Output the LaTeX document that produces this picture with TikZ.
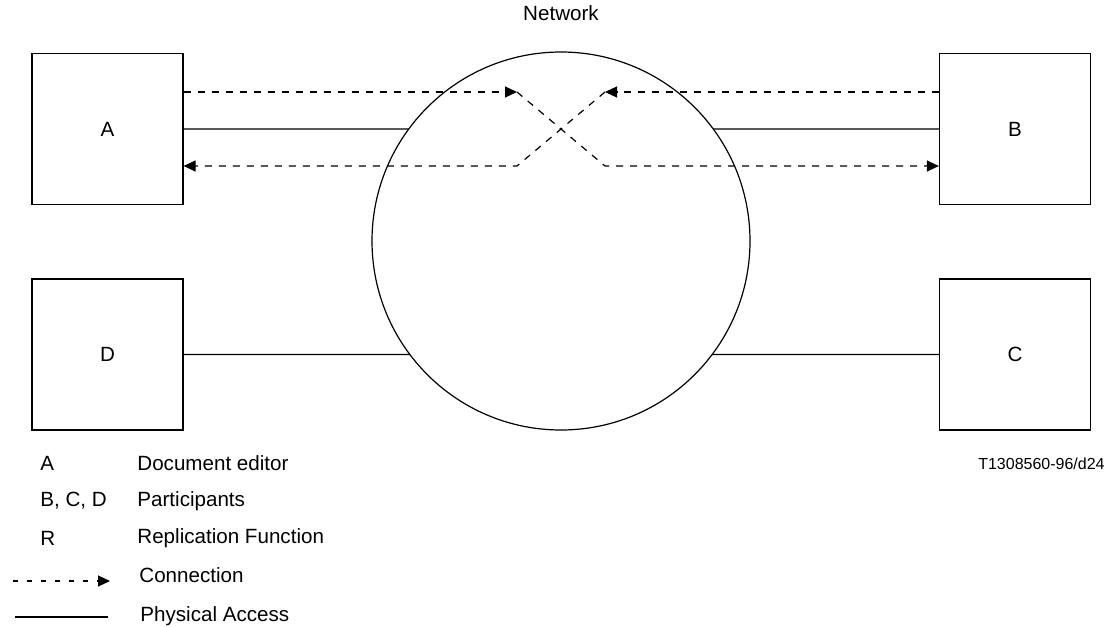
\documentclass[tikz,border=0pt]{standalone}
\usepackage{fontspec}
\setmainfont{Liberation Sans}
\usetikzlibrary{arrows.meta, calc, intersections}

\begin{document}
\begin{tikzpicture}[
    x=0.5pt, y=-0.5pt,
    every node/.style={font=\fontsize{10.3}{12}\selectfont},
    box/.style={draw, line width=0.6pt, minimum width=75.5pt, minimum height=75.5pt, inner sep=0pt},
    key/.style={anchor=west, inner sep=0pt},
    phys/.style={line width=0.6pt},
    conn/.style={line width=0.6pt, dash pattern=on 3.5pt off 3.5pt},
    tip/.style={-{Triangle[length=6pt, width=5.5pt]}}
]
\useasboundingbox (0,0) rectangle (1112,626);

% Network
\node[circle, draw, line width=0.6pt, minimum size=189pt, inner sep=0pt] (net) at (561,241) {};
\path[name path=rim] (net.center) circle[radius=94.5pt];
\node (netlabel) at (561,13) {Network};

% Four boxes
\node[box] (A) at (107.5,129) {A};
\node[box] (B) at (1015,129) {B};
\node[box] (D) at (107.5,354.5) {D};
\node[box] (C) at (1015,354.5) {C};

% Physical access
\path[name path=accA] (A.east) -- (A.east -| net.center);
\path[name path=accB] (B.west) -- (B.west -| net.center);
\path[name path=accD] (D.east) -- (D.east -| net.center);
\path[name path=accC] (C.west) -- (C.west -| net.center);
\path[name intersections={of=accA and rim, name=ia}];
\path[name intersections={of=accB and rim, name=ib}];
\path[name intersections={of=accD and rim, name=id}];
\path[name intersections={of=accC and rim, name=ic}];
\draw[phys] (A.east) -- (ia-1);
\draw[phys] (B.west) -- (ib-1);
\draw[phys] (D.east) -- (id-1);
\draw[phys] (C.west) -- (ic-1);

% Connections
\coordinate (ab1) at (517,92);
\coordinate (ab2) at (605,166);
\coordinate (ba1) at (605,92);
\coordinate (ba2) at (517,166);
\draw[conn, tip] (A.east |- ab1) -- (ab1);
\draw[conn, tip] (ab1) -- (ab2) -- (B.west |- ab2);
\draw[conn, tip] (B.west |- ba1) -- (ba1);
\draw[conn, tip] (ba1) -- (ba2) -- (A.east |- ba2);

% Legend
\node[key] (kA) at (40,463) {A};
\node[key] (tA) at (137,463) {Document editor};
\node[key] (kB) at (40,501) {B, C, D};
\node[key] (tB) at (137,501) {Participants};
\node[key] (kR) at (40,538) {R};
\node[key] (tR) at (137,538) {Replication Function};
\coordinate (lc1) at (13,581);
\coordinate (lc2) at (110,581);
\draw[conn, dash pattern=on 2.5pt off 4.5pt, tip] (lc1) -- (lc2);
\node[key] (tC) at (139,575) {Connection};
\coordinate (lp1) at (15,617);
\coordinate (lp2) at (108,617);
\draw[phys] (lp1) -- (lp2);
\node[key] (tP) at (140,616) {Physical Access};

\node[anchor=east, inner sep=0pt, font=\fontsize{8}{10}\selectfont] (ref) at (1105,464) {T1308560-96/d24};

\end{tikzpicture}
\end{document}
